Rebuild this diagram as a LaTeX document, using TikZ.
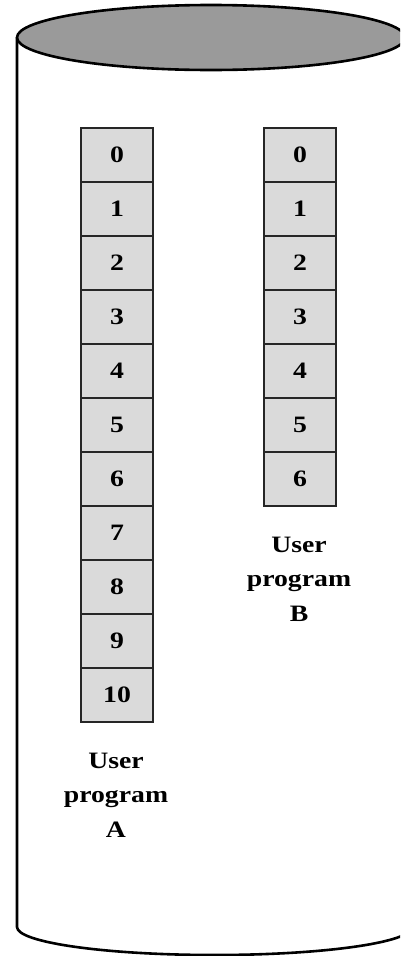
\documentclass[tikz,border=0pt]{standalone}
\usepackage{fontspec}
\setmainfont{Liberation Serif}
\definecolor{lidgray}{HTML}{9A9A9A}
\definecolor{cellgray}{HTML}{DADADA}
\newcommand{\stx}[1]{\scalebox{1.18}[1]{#1}}
\tikzset{
  cell/.style={draw=black!85, line width=1.5pt, fill=cellgray,
    minimum width=72pt, minimum height=54pt, inner sep=0pt, outer sep=0pt,
    font=\fontsize{23.5}{26}\selectfont\bfseries},
  lbl/.style={align=center, inner sep=0pt,
    font=\fontsize{23.5}{34.5}\selectfont\bfseries},
  cyl/.style={draw=black, line width=2.6pt}
}
\begin{document}
\begin{tikzpicture}[x=1pt,y=-1pt]
\useasboundingbox (0,0) rectangle (400,956);
\clip (0,0) rectangle (400,956);
% cylinder
\draw[cyl] (17,37.5) -- (17,927) arc[start angle=180, end angle=0, x radius=197.5, y radius=28] -- (412,37.5);
\draw[cyl, fill=lidgray] (211,37.5) ellipse[x radius=194, y radius=32.5];
% program A
\foreach \i in {0,...,10}
  \node[cell] (a\i) at (117, 155+54*\i) {\stx{\i}};
% program B
\foreach \i in {0,...,6}
  \node[cell] (b\i) at (300, 155+54*\i) {\stx{\i}};
\node[lbl] (la) at (116,795) {\stx{User}\\\stx{program}\\\stx{A}};
\node[lbl] (lb) at (299,579) {\stx{User}\\\stx{program}\\\stx{B}};
\end{tikzpicture}
\end{document}
